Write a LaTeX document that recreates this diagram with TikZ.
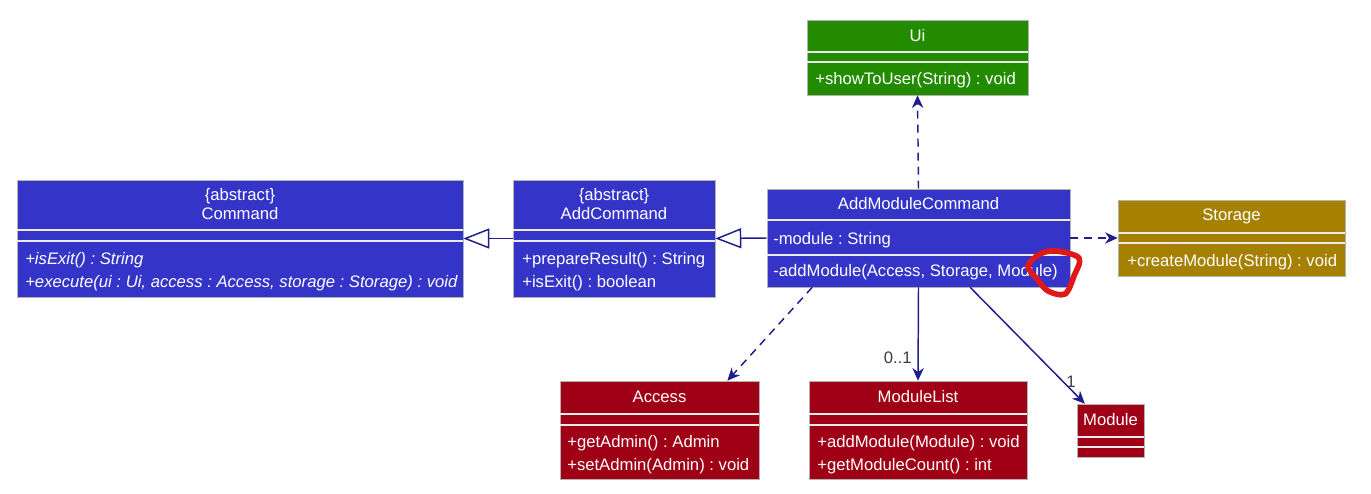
\documentclass[tikz,border=0pt]{standalone}
\usepackage{fontspec}
\setmainfont{Liberation Sans}
\usetikzlibrary{arrows.meta,fit,calc}
\definecolor{cblue}{HTML}{3434C8}
\definecolor{cgreen}{HTML}{228B00}
\definecolor{cgold}{HTML}{A68000}
\definecolor{cred}{HTML}{A00016}
\definecolor{arr}{HTML}{1E1E8C}
\definecolor{lbl}{HTML}{3C3C3C}
\definecolor{annot}{HTML}{E01818}
\frenchspacing
\tikzset{
  cls/.style={fit={#1}, inner sep=0pt, draw=white!70!black, line width=0.4pt},
  sepline/.style={draw=white!92!black, line width=1.1pt},
  txt/.style={text=white, inner sep=0pt, font=\fontsize{12.5}{14}\selectfont},
  itxt/.style={txt, font=\fontsize{12.5}{14}\selectfont\itshape},
  mult/.style={text=lbl, inner sep=0pt, font=\fontsize{12.5}{14}\selectfont},
  dep/.style={draw=arr, line width=1.1pt, dash pattern=on 6pt off 4.5pt,
    -{Stealth[length=9.5pt,width=8.5pt,inset=3pt]}},
  assoc/.style={draw=arr, line width=1.1pt,
    -{Stealth[length=9.5pt,width=8.5pt,inset=3pt]}},
  inherit/.style={draw=arr, line width=1.1pt,
    -{Triangle[length=19.5pt,width=15pt,fill=white,line width=1.1pt]}},
  annotation/.style={draw=annot, line width=4.2pt, line join=round, line cap=round}
}
\begin{document}
\begin{tikzpicture}[x=0.75pt,y=-0.75pt]
\path[use as bounding box] (0,0) rectangle (1371,493);

% Ui
\node[cls={(807,20) (1028,95)}, fill=cgreen] (ui) {};
\draw[sepline] (807,52) -- (1028,52) (807,62) -- (1028,62);
\node[txt] (uit) at (917.5,36) {Ui};
\node[txt, anchor=mid west] (uim1) at (815,80.5) {+showToUser(String) : void};

% Command
\node[cls={(17,180) (463,297)}, fill=cblue] (cmd) {};
\draw[sepline] (17,230) -- (463,230) (17,241) -- (463,241);
\node[txt] (cmdt1) at (240,196) {\{abstract\}};
\node[txt] (cmdt2) at (240,214) {Command};
\node[itxt, anchor=mid west] (cmdm1) at (25,260.5) {+isExit() : String};
\node[itxt, anchor=mid west] (cmdm2) at (25,283.5) {+execute(ui : Ui, access : Access, storage : Storage) : void};

% AddCommand
\node[cls={(513,180) (715,297)}, fill=cblue] (addc) {};
\draw[sepline] (513,230) -- (715,230) (513,241) -- (715,241);
\node[txt] (addct1) at (614,196) {\{abstract\}};
\node[txt] (addct2) at (614,214) {AddCommand};
\node[txt, anchor=mid west] (addcm1) at (522,260.5) {+prepareResult() : String};
\node[txt, anchor=mid west] (addcm2) at (522,283.5) {+isExit() : boolean};

% AddModuleCommand
\node[cls={(767,189) (1070,287)}, fill=cblue] (amc) {};
\draw[sepline] (767,220) -- (1070,220) (767,255) -- (1070,255);
\node[txt] (amct) at (918.5,204) {AddModuleCommand};
\node[txt, anchor=mid west] (amca1) at (773,240.5) {-module : String};
\node[txt, anchor=mid west] (amcm1) at (773,272.5) {-addModule(Access, Storage, Module)};

% Storage
\node[cls={(1118,200) (1345,276)}, fill=cgold] (sto) {};
\draw[sepline] (1118,233) -- (1345,233) (1118,243) -- (1345,243);
\node[txt] (stot) at (1231.5,216) {Storage};
\node[txt, anchor=mid west] (stom1) at (1127,262.5) {+createModule(String) : void};

% Access
\node[cls={(560,381) (759,479)}, fill=cred] (acc) {};
\draw[sepline] (560,414) -- (759,414) (560,425) -- (759,425);
\node[txt] (acct) at (659.5,397) {Access};
\node[txt, anchor=mid west] (accm1) at (567,443.5) {+getAdmin() : Admin};
\node[txt, anchor=mid west] (accm2) at (567,466.5) {+setAdmin(Admin) : void};

% ModuleList
\node[cls={(809,381) (1027,479)}, fill=cred] (ml) {};
\draw[sepline] (809,414) -- (1027,414) (809,425) -- (1027,425);
\node[txt] (mlt) at (918,397) {ModuleList};
\node[txt, anchor=mid west] (mlm1) at (817,443.5) {+addModule(Module) : void};
\node[txt, anchor=mid west] (mlm2) at (817,466.5) {+getModuleCount() : int};

% Module
\node[cls={(1077,404) (1144,457)}, fill=cred] (mod) {};
\draw[sepline] (1077,437) -- (1144,437) (1077,447) -- (1144,447);
\node[txt] (modt) at (1110.5,420) {Module};

% Connectors
\draw[dep] (amc.north) -- (ui.south);
\draw[inherit] (amc.west) -- (addc.east);
\draw[inherit] (addc.west) -- (cmd.east);
\draw[dep] (amc.east) -- (sto.west);
\draw[dep] ($(amc.south west)!0.15!(amc.south east)$) -- ($(acc.north west)!0.84!(acc.north east)$);
\draw[assoc] (amc.south) -- (ml.north);
\draw[assoc] ($(amc.south west)!0.67!(amc.south east)$) -- ($(mod.north west)!0.12!(mod.north east)$);
\node[mult, anchor=mid east] (m01) at (912,360) {0..1};
\node[mult] (m1) at (1071,382) {1};

% Red hand-drawn annotation
\draw[annotation] plot[smooth cycle, tension=0.55] coordinates
  {(1028,266) (1040,254) (1056,251) (1079,258) (1074,276) (1065,294) (1048,291) (1037,279)};
\end{tikzpicture}
\end{document}
